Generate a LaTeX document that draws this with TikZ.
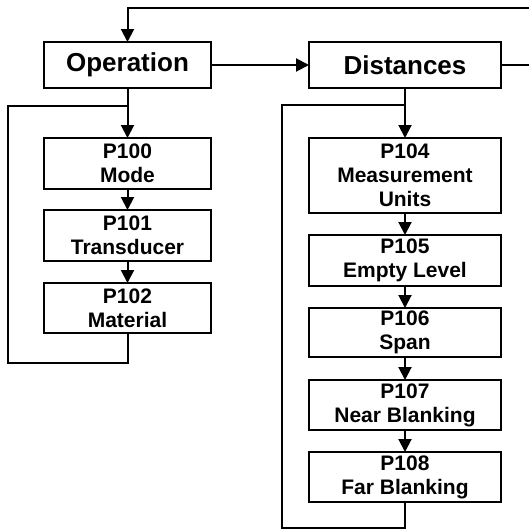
\documentclass[tikz,border=0pt]{standalone}
\usepackage{fontspec}
\setmainfont{Liberation Sans}
\usetikzlibrary{arrows.meta}
\begin{document}
\begin{tikzpicture}[x=1pt,y=-1pt,line width=2pt,
  arr/.style={-{Triangle[length=13pt,width=13pt]}},
  headbox/.style={draw,line width=2pt,inner sep=0pt,outer sep=0pt,minimum height=46pt,align=center,font=\fontsize{26}{28}\selectfont\bfseries},
  pbox/.style={draw,line width=2pt,inner sep=0pt,outer sep=0pt,align=center,font=\fontsize{21}{24}\selectfont\bfseries}]
\useasboundingbox (0,0) rectangle (529,530);
% column 1
\node[headbox,minimum width=167pt] (op) at (127.5,65) {Operation};
\node[pbox,minimum width=167pt,minimum height=51pt] (p100) at (127.5,163.5) {P100\\Mode};
\node[pbox,minimum width=167pt,minimum height=51pt] (p101) at (127.5,235.5) {P101\\Transducer};
\node[pbox,minimum width=167pt,minimum height=50pt] (p102) at (127.5,308) {P102\\Material};
% column 2
\node[headbox,minimum width=192pt] (dist) at (405,65) {Distances};
\node[pbox,minimum width=192pt,minimum height=75pt] (p104) at (405,175.5) {P104\\Measurement\\Units};
\node[pbox,minimum width=192pt,minimum height=51pt] (p105) at (405,260.5) {P105\\Empty Level};
\node[pbox,minimum width=192pt,minimum height=49pt] (p106) at (405,332.5) {P106\\Span};
\node[pbox,minimum width=192pt,minimum height=50pt] (p107) at (405,405) {P107\\Near Blanking};
\node[pbox,minimum width=192pt,minimum height=50pt] (p108) at (405,477) {P108\\Far Blanking};
% coordinates
\coordinate (topr) at (529,8);
\coordinate (midr) at (529,65);
\coordinate (j1) at (127.5,106);
\coordinate (l1a) at (127.5,363);
\coordinate (l1b) at (8,363);
\coordinate (l1c) at (8,106);
\coordinate (j2) at (405,105);
\coordinate (l2a) at (405,528);
\coordinate (l2b) at (282,528);
\coordinate (l2c) at (282,105);
% connectors
\draw[arr] (topr) -| (op.north);
\draw[arr] (op.east) -- (dist.west);
\draw (dist.east) -- (midr);
\draw[arr] (op.south) -- (p100.north);
\draw[arr] (p100.south) -- (p101.north);
\draw[arr] (p101.south) -- (p102.north);
\draw (p102.south) -- (l1a) -- (l1b) -- (l1c) -- (j1);
\draw[arr] (dist.south) -- (p104.north);
\draw[arr] (p104.south) -- (p105.north);
\draw[arr] (p105.south) -- (p106.north);
\draw[arr] (p106.south) -- (p107.north);
\draw[arr] (p107.south) -- (p108.north);
\draw (p108.south) -- (l2a) -- (l2b) -- (l2c) -- (j2);
\end{tikzpicture}
\end{document}
